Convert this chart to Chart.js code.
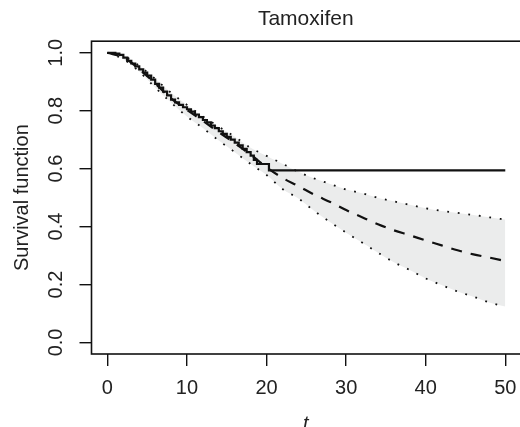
<!DOCTYPE html>
<html>
<head>
<meta charset="utf-8">
<script src="https://cdn.jsdelivr.net/npm/chart.js@4.4.1/dist/chart.umd.min.js"></script>
<style>
  html, body { margin: 0; padding: 0; background: #fff; }
  #wrap { width: 520px; height: 427px; }
</style>
</head>
<body>
<div id="wrap"><canvas id="chart" width="520" height="427"></canvas></div>
<script>
// times for the parametric fit and its band
const fitTimes = [0, 2, 4, 6, 8, 10, 12, 14, 16, 18, 20, 22, 24, 26, 28, 30, 32, 34, 36, 38, 40, 42, 44, 46, 48, 50];
const fitMean  = [1.0, 0.984, 0.944, 0.894, 0.842, 0.803, 0.765, 0.726, 0.688, 0.648, 0.605, 0.568, 0.54, 0.51, 0.485, 0.457, 0.432, 0.408, 0.387, 0.370, 0.352, 0.335, 0.318, 0.304, 0.293, 0.281];
const fitUpper = [1.0, 0.99, 0.955, 0.91, 0.862, 0.82, 0.78, 0.745, 0.71, 0.672, 0.644, 0.617, 0.589, 0.566, 0.547, 0.528, 0.515, 0.499, 0.487, 0.475, 0.463, 0.454, 0.447, 0.44, 0.432, 0.424];
const fitLower = [1.0, 0.978, 0.935, 0.88, 0.828, 0.78, 0.74, 0.697, 0.657, 0.616, 0.578, 0.53, 0.497, 0.454, 0.415, 0.379, 0.345, 0.31, 0.277, 0.25, 0.221, 0.198, 0.176, 0.158, 0.138, 0.124];

// Kaplan-Meier steps
const kmTimes = [0, 0.5, 1, 1.5, 2, 2.5, 3, 3.5, 4, 4.5, 5, 5.5, 6, 6.5, 7, 7.5, 8, 8.5, 9, 9.5, 10, 10.5, 11, 11.5, 12, 12.5, 13, 13.5, 14, 14.5, 15, 15.5, 16, 16.5, 17, 17.5, 18, 18.4, 18.8, 20.3, 50];
const kmSurv  = [1.0, 1.0, 0.997, 0.993, 0.983, 0.972, 0.963, 0.953, 0.943, 0.932, 0.921, 0.907, 0.893, 0.880, 0.866, 0.853, 0.838, 0.829, 0.82, 0.812, 0.805, 0.797, 0.787, 0.778, 0.768, 0.76, 0.749, 0.74, 0.729, 0.72, 0.71, 0.70, 0.69, 0.68, 0.668, 0.657, 0.645, 0.63, 0.616, 0.594, 0.594];

const xTicks = [0, 10, 20, 30, 40, 50];
const yTicks = [0, 0.2, 0.4, 0.6, 0.8, 1.0];

const FONT = 'Liberation Sans, Arial, sans-serif';
const toXY = (xs, ys) => xs.map((x, i) => ({ x: x, y: ys[i] }));

// box round the plot (right side runs off the canvas), rotated y labels, x title
const framePlugin = {
    id: 'frame',
    afterDraw(chart) {
        const { ctx, chartArea: a, scales } = chart;
        ctx.save();
        ctx.strokeStyle = '#111';
        ctx.lineWidth = 1.6;
        ctx.strokeRect(a.left, a.top, a.right + 4 - a.left, a.bottom - a.top);

        ctx.fillStyle = '#222';
        ctx.font = '20px ' + FONT;
        ctx.textAlign = 'center';
        ctx.textBaseline = 'middle';
        yTicks.forEach(v => {
            const py = scales.y.getPixelForValue(v);
            ctx.save();
            ctx.translate(56, py);
            ctx.rotate(-Math.PI / 2);
            ctx.fillText(v.toFixed(1), 0, 0);
            ctx.restore();
        });

        ctx.font = 'italic 20px ' + FONT;
        ctx.textBaseline = 'alphabetic';
        ctx.fillText('t', (a.left + a.right) / 2, 430);
        ctx.restore();
    }
};

new Chart(document.getElementById('chart'), {
    type: 'line',
    data: {
        datasets: [
            {
                label: 'KM',
                data: toXY(kmTimes, kmSurv),
                borderColor: '#111',
                borderWidth: 2.2,
                stepped: 'before',
                pointRadius: 0,
                fill: false
            },
            {
                label: 'fit',
                data: toXY(fitTimes, fitMean),
                borderColor: '#111',
                borderWidth: 2.2,
                borderDash: [11, 9],
                cubicInterpolationMode: 'monotone',
                pointRadius: 0,
                fill: false
            },
            {
                label: 'upper',
                data: toXY(fitTimes, fitUpper),
                borderColor: '#111',
                borderWidth: 1.8,
                borderDash: [1.8, 8.8],
                cubicInterpolationMode: 'monotone',
                pointRadius: 0,
                backgroundColor: '#ebecec',
                fill: '+1'
            },
            {
                label: 'lower',
                data: toXY(fitTimes, fitLower),
                borderColor: '#111',
                borderWidth: 1.8,
                borderDash: [1.8, 8.8],
                cubicInterpolationMode: 'monotone',
                pointRadius: 0,
                fill: false
            }
        ]
    },
    options: {
        responsive: false,
        animation: false,
        layout: { padding: { left: 0, right: 0, top: 0, bottom: 0 } },
        plugins: {
            legend: { display: false },
            tooltip: { enabled: false },
            filler: { drawTime: 'beforeDatasetsDraw' },
            title: {
                display: true,
                text: 'Tamoxifen',
                fullSize: false,
                color: '#222',
                font: { family: FONT, size: 21, weight: 'normal' },
                padding: { top: 7, bottom: 9 }
            }
        },
        scales: {
            x: {
                type: 'linear',
                min: -2,
                max: 51.85,
                afterBuildTicks: s => { s.ticks = xTicks.map(v => ({ value: v })); },
                afterFit: s => { s.height = 73; s.paddingLeft = 0; s.paddingRight = 0; },
                border: { display: false },
                grid: { drawOnChartArea: false, drawTicks: true, tickLength: 12, color: '#111', lineWidth: 1.4 },
                ticks: { color: '#222', font: { family: FONT, size: 20 }, padding: 10, maxRotation: 0 }
            },
            y: {
                type: 'linear',
                min: -0.04,
                max: 1.04,
                afterBuildTicks: s => { s.ticks = yTicks.map(v => ({ value: v })); },
                afterFit: s => { s.width = 91.5; s.paddingTop = 0; s.paddingBottom = 0; },
                border: { display: false },
                grid: { drawOnChartArea: false, drawTicks: true, tickLength: 12, color: '#111', lineWidth: 1.4 },
                ticks: { display: false },
                title: {
                    display: true,
                    text: 'Survival function',
                    color: '#222',
                    font: { family: FONT, size: 20 },
                    padding: { top: 10, bottom: 0 }
                }
            }
        }
    },
    plugins: [framePlugin]
});
</script>
</body>
</html>
